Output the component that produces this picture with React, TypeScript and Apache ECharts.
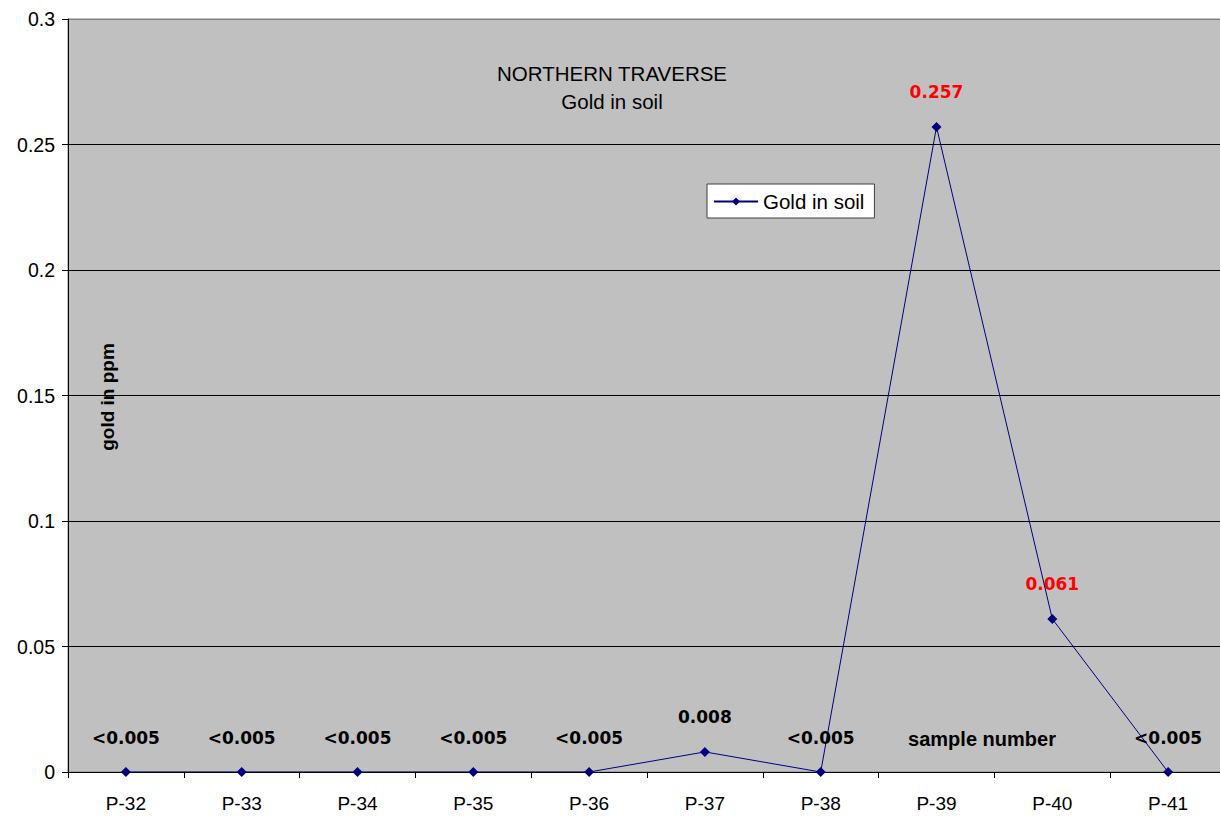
import React, { useEffect, useRef } from "react";
import * as echarts from "echarts";

// Sample stations along the northern traverse
const samples = ["P-32", "P-33", "P-34", "P-35", "P-36", "P-37", "P-38", "P-39", "P-40", "P-41"];
// Gold assays in ppm (values below detection are plotted at zero)
const goldPpm = [0, 0, 0, 0, 0, 0.008, 0, 0.257, 0.061, 0];
// Text shown above each assay point
const assayLabels = ["<0.005", "<0.005", "<0.005", "<0.005", "<0.005", "0.008", "<0.005", "0.257", "0.061", "<0.005"];
// Anomalous assays highlighted in red
const anomalous = [false, false, false, false, false, false, false, true, true, false];

const yTicks = [0, 0.05, 0.1, 0.15, 0.2, 0.25, 0.3];

export default function App() {
  const ref = useRef<HTMLDivElement>(null);

  useEffect(() => {
    document.body.style.margin = "0";
    document.body.style.overflow = "hidden";
    const chart = echarts.init(ref.current!, null, { renderer: "svg" });
    const axisFont = "'Liberation Sans', Arial, sans-serif";
    const labelFont = "'DejaVu Sans', Verdana, sans-serif";

    chart.setOption({
      animation: false,
      backgroundColor: "#ffffff",
      grid: {
        left: 68,
        top: 19,
        right: 4,
        bottom: 44,
        show: true,
        backgroundColor: "#c0c0c0",
        borderColor: "#808080",
        borderWidth: 1,
      },
      legend: {
        show: true,
        left: 707,
        top: 184,
        orient: "vertical",
        backgroundColor: "#ffffff",
        borderColor: "#404040",
        borderWidth: 1,
        borderRadius: 0,
        padding: [7, 10, 6, 6],
        itemWidth: 44,
        itemHeight: 10,
        itemGap: 0,
        textStyle: { fontFamily: axisFont, fontSize: 20.5, color: "#000000" },
        data: ["Gold in soil"],
      },
      xAxis: {
        type: "category",
        data: samples,
        boundaryGap: true,
        axisLine: { lineStyle: { color: "#000000", width: 1 } },
        axisTick: { show: true, length: 6, inside: false, lineStyle: { color: "#000000" } },
        axisLabel: {
          color: "#000000",
          fontFamily: axisFont,
          fontSize: 19,
          margin: 22,
        },
        splitLine: { show: false },
      },
      yAxis: {
        type: "value",
        min: 0,
        max: 0.3,
        interval: 0.05,
        axisLine: { show: true, lineStyle: { color: "#000000", width: 1 } },
        axisTick: { show: true, length: 6, lineStyle: { color: "#000000" } },
        axisLabel: {
          color: "#000000",
          fontFamily: axisFont,
          fontSize: 19.5,
          margin: 13,
          formatter: (v: number) => {
            const found = yTicks.find((t) => Math.abs(t - v) < 1e-9);
            return String(found !== undefined ? found : v);
          },
        },
        splitLine: {
          show: true,
          lineStyle: {
            color: ["#000000", "#000000", "#000000", "#000000", "#000000", "#000000", "#808080"],
            width: 1,
          },
        },
      },
      series: [
        {
          name: "Gold in soil",
          type: "line",
          data: goldPpm.map((v, i) => ({
            value: v,
            label: {
              formatter: assayLabels[i],
              color: anomalous[i] ? "#ff0000" : "#000000",
            },
          })),
          symbol: "diamond",
          symbolSize: 10,
          itemStyle: { color: "#000080" },
          lineStyle: { color: "#000080", width: 1 },
          label: {
            show: true,
            position: "top",
            distance: 21,
            fontFamily: labelFont,
            fontWeight: "bold",
            fontSize: 17,
          },
        },
      ],
      graphic: [
        {
          type: "text",
          x: 612,
          y: 73,
          style: {
            text: "NORTHERN TRAVERSE",
            font: `20.5px ${axisFont}`,
            fill: "#000000",
            textAlign: "center",
            textVerticalAlign: "middle",
          },
        },
        {
          type: "text",
          x: 612,
          y: 101,
          style: {
            text: "Gold in soil",
            font: `20.5px ${axisFont}`,
            fill: "#000000",
            textAlign: "center",
            textVerticalAlign: "middle",
          },
        },
        {
          type: "text",
          x: 107,
          y: 397,
          rotation: Math.PI / 2,
          style: {
            text: "gold in ppm",
            font: `bold 19px ${axisFont}`,
            fill: "#000000",
            textAlign: "center",
            textVerticalAlign: "middle",
          },
        },
        {
          type: "text",
          x: 982,
          y: 739,
          style: {
            text: "sample number",
            font: `bold 20px ${axisFont}`,
            fill: "#000000",
            textAlign: "center",
            textVerticalAlign: "middle",
          },
        },
      ],
    });

    return () => chart.dispose();
  }, []);

  return <div ref={ref} style={{ width: 1230, height: 816 }} />;
}
